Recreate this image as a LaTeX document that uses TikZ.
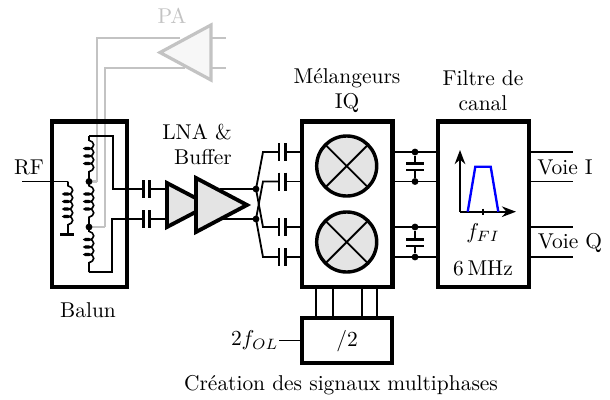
\documentclass[tikz,border=0pt]{standalone}
\usepackage{amsmath}
\usepackage{xcolor}
\usepackage{tikz}
\usetikzlibrary{positioning,arrows.meta,decorations.pathmorphing}
\definecolor{paleline}{RGB}{195,195,195}
\definecolor{palefill}{RGB}{247,247,247}
\definecolor{ampfill}{RGB}{228,228,228}

\begin{document}
\begin{tikzpicture}[>=Stealth, x=0.4664pt, y=-0.4664pt,
    wire/.style={line width=0.85pt},
    plate/.style={line width=1.2pt},
    gwire/.style={paleline, line width=1.3pt},
    bloc/.style={draw, line width=2pt, inner sep=0pt, outer sep=0pt},
    ampli/.style={draw, line width=1.8pt, fill=ampfill, line join=miter},
    mixer/.style={draw, circle, line width=1.6pt, fill=ampfill, inner sep=0pt, outer sep=0pt, minimum size=28pt},
    junction/.style={circle, fill, inner sep=0pt, minimum size=3.2pt},
    coilwire/.style={line width=0.75pt, decorate, decoration={coil, aspect=0.55, segment length=3.5pt, amplitude=2.2pt, pre length=2pt, post length=2pt}},
    label/.style={inner sep=0pt, font=\normalsize}]
\useasboundingbox (0,0) rectangle (610,399);

% PA and its feed
\draw[gwire] (97,181.5) -- (97,38) -- (180,38);
\draw[gwire] (105,227) -- (105,68) -- (185,68);
\draw[gwire] (211,38) -- (226,38);
\draw[gwire] (211,68) -- (226,68);
\draw[gwire, line width=1.5pt, fill=palefill] (160,52.5) -- (211,25) -- (211,80) -- cycle;
\node[label, text=paleline] (palabel) at (172,16) {PA};
\draw[gwire] (89,181.5) -- (97,181.5);
\draw[gwire] (89,227) -- (105,227);

% blocks
\node[bloc, minimum width=35pt, minimum height=77.2pt] (balun) at (89.5,204.25) {};
\node[bloc, minimum width=42.2pt, minimum height=77.2pt] (iqmix) at (347.2,204.25) {};
\node[bloc, minimum width=42.3pt, minimum height=77.2pt] (chfilter) at (483.3,204.25) {};
\node[bloc, minimum width=42pt, minimum height=21pt] (divider) at (347.2,340.5) {};

% balun windings
\coordinate (tapa) at (89,181.5);
\coordinate (tapb) at (89,227);
\coordinate (cointop) at (89,136);
\coordinate (coinbot) at (89,272);
\coordinate (primtop) at (68,181.5);
\coordinate (primbot) at (68,234);
\draw[coilwire] (cointop) -- (tapa);
\draw[coilwire] (tapa) -- (tapb);
\draw[coilwire] (tapb) -- (coinbot);
\draw[coilwire] (primtop) -- (primbot);
\node[junction] (dota) at (tapa) {};
\node[junction] (dotb) at (tapb) {};
\draw[plate, line width=1.4pt] (60,234) -- (74,234);

\coordinate (rfin) at (22,181.5);
\draw[wire] (rfin) -- (primtop);
\draw[wire] (cointop) -- (113,136) -- (113,189) -- (143,189);
\draw[wire] (coinbot) -- (112,272) -- (112,219) -- (143,219);

% input capacitors
\draw[plate] (143.3,180) -- (143.3,198);
\draw[plate] (149.3,180) -- (149.3,198);
\draw[plate] (143.3,210) -- (143.3,228);
\draw[plate] (149.3,210) -- (149.3,228);
\draw[wire] (149.3,189) -- (167,189);
\draw[wire] (149.3,219) -- (167,219);

% LNA and buffer
\coordinate (outa) at (256,189);
\coordinate (outb) at (256,219);
\draw[wire] (220,189) -- (outa);
\draw[wire] (220,219) -- (outb);
\draw[ampli] (167,183) -- (209,205) -- (167,227) -- cycle;
\draw[ampli] (196,178) -- (247,205) -- (196,232) -- cycle;
\node[junction] (dotc) at (outa) {};
\node[junction] (dotd) at (outb) {};

% cross-over to the mixers
\draw[wire] (outa) -- (263,152) -- (279,152);
\draw[wire] (outb) -- (263,181.5) -- (279,181.5);
\draw[wire] (outa) -- (263,227) -- (279,227);
\draw[wire] (outb) -- (263,257) -- (279,257);
\draw[plate] (279,143) -- (279,161);
\draw[plate] (285.5,143) -- (285.5,161);
\draw[plate] (279,172.5) -- (279,190.5);
\draw[plate] (285.5,172.5) -- (285.5,190.5);
\draw[plate] (279,218) -- (279,236);
\draw[plate] (285.5,218) -- (285.5,236);
\draw[plate] (279,248) -- (279,266);
\draw[plate] (285.5,248) -- (285.5,266);
\draw[wire] (285.5,152) -- (302,152);
\draw[wire] (285.5,181.5) -- (302,181.5);
\draw[wire] (285.5,227) -- (302,227);
\draw[wire] (285.5,257) -- (302,257);

% mixers
\node[mixer] (mixi) at (346.7,166) {};
\node[mixer] (mixq) at (346.7,242) {};
\draw[wire] (mixi.north west) -- (mixi.south east);
\draw[wire] (mixi.north east) -- (mixi.south west);
\draw[wire] (mixq.north west) -- (mixq.south east);
\draw[wire] (mixq.north east) -- (mixq.south west);

% between mixers and filter
\draw[wire] (392.5,152) -- (438,152);
\draw[wire] (392.5,181.5) -- (438,181.5);
\draw[wire] (392.5,227) -- (438,227);
\draw[wire] (392.5,257) -- (438,257);
\node[junction] (dote) at (415,152) {};
\node[junction] (dotf) at (415,181.5) {};
\node[junction] (dotg) at (415,227) {};
\node[junction] (doth) at (415,257) {};
\draw[wire] (dote) -- (415,163.5);
\draw[wire] (dotf) -- (415,170);
\draw[wire] (dotg) -- (415,239.5);
\draw[wire] (doth) -- (415,246);
\draw[plate] (406,163.5) -- (424,163.5);
\draw[plate] (406,170) -- (424,170);
\draw[plate] (406,239.5) -- (424,239.5);
\draw[plate] (406,246) -- (424,246);

% filter template
\coordinate (origin) at (460,211.7);
\draw[->, line width=0.8pt] (origin) -- (516,211.7);
\draw[->, line width=0.8pt] (origin) -- (460,150);
\draw[blue, line width=1.1pt] (467.7,211.7) -- (475.3,166.7) -- (490.7,166.7) -- (498.3,211.7);
\draw[line width=0.6pt] (483,208.5) -- (483,215);
\node[label] (ffi) at (483,233) {$f_{FI}$};
\node[label] (bandw) at (483,268) {6\,MHz};

% outputs
\draw[wire] (528.7,152) -- (573,152);
\draw[wire] (528.7,181.5) -- (573,181.5);
\draw[wire] (528.7,227) -- (573,227);
\draw[wire] (528.7,257) -- (573,257);
\node[label] (voiei) at (565,167) {Voie I};
\node[label] (voieq) at (570,243) {Voie Q};

% divider
\coordinate (olin) at (279,340.5);
\draw[wire] (olin) -- (divider.west);
\draw[wire] (316,287) -- (316,318);
\draw[wire] (332.7,287) -- (332.7,318);
\draw[wire] (362.3,287) -- (362.3,318);
\draw[wire] (377,287) -- (377,318);
\node[label] (divlabel) at (347,341) {$/2$};
\node[label, left=0pt of olin] (ollabel) {$2f_{OL}$};

% texts
\node[label] (rflabel) at (29,167) {RF};
\node[label] (balunlabel) at (88,310) {Balun};
\node[label] (lnalabel) at (197,132) {LNA \&};
\node[label] (buflabel) at (203,157) {Buffer};
\node[label] (mixlabel) at (347,78) {Mélangeurs};
\node[label] (iqlabel) at (347,103) {IQ};
\node[label] (filtlabel) at (483,78) {Filtre de};
\node[label] (canlabel) at (483,103) {canal};
\node[label] (genlabel) at (341,385) {Création des signaux multiphases};

\end{tikzpicture}
\end{document}
